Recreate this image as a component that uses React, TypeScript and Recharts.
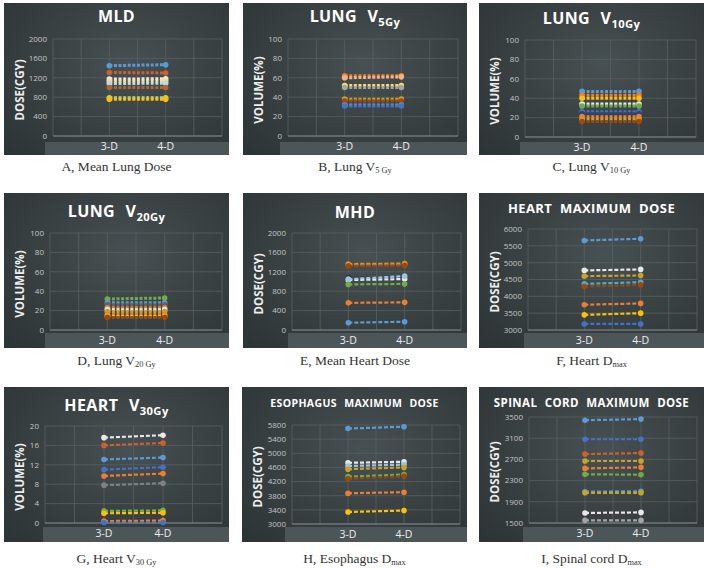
import React from "react";
import { LineChart, Line, XAxis, YAxis, CartesianGrid } from "recharts";

const categories = ["3-D", "4-D"];
const xTicks = [0, 0.5, 1, 1.5, 2, 2.5, 3];

// values per series: [3-D, 4-D]
const mldTicks = [0, 400, 800, 1200, 1600, 2000];
const mldValues = [[1450, 1470], [1310, 1300], [1175, 1180], [1130, 1140], [1080, 1090], [1000, 1000], [790, 790], [760, 760]];
const mldColors = ["#5B9BD5", "#D0602A", "#E8E8E8", "#F4E28A", "#BDD7EE", "#B0682A", "#A9D18E", "#FFC000"];

const v5Ticks = [0, 20, 40, 60, 80, 100];
const v5Values = [[62, 62], [60, 61], [52, 52], [50, 50], [38, 38], [36, 36], [32, 32], [31, 31]];
const v5Colors = ["#ED7D31", "#F4B183", "#FFD966", "#A5A5A5", "#C9A227", "#9E480E", "#5B9BD5", "#4472C4"];

const v10Ticks = [0, 20, 40, 60, 80, 100];
const v10Values = [[47, 47], [43, 43], [40, 40], [34, 34], [32, 32], [26, 26], [24, 24], [21, 21], [18, 18], [16, 16]];
const v10Colors = ["#5B9BD5", "#ED7D31", "#FFC000", "#E8E8E8", "#70AD47", "#4472C4", "#264478", "#ED7D31", "#C9A227", "#9E480E"];

const v20Ticks = [0, 20, 40, 60, 80, 100];
const v20Values = [[32, 33], [28, 28], [26, 26], [23, 23], [21, 21], [19, 19], [16, 16], [14, 14], [13, 13]];
const v20Colors = ["#70AD47", "#5B9BD5", "#636363", "#ED7D31", "#E8E8E8", "#C9A227", "#ED7D31", "#FFC000", "#9E480E"];

const mhdTicks = [0, 400, 800, 1200, 1600, 2000];
const mhdValues = [[1360, 1370], [1340, 1350], [1320, 1330], [1080, 1090], [1030, 1050], [1050, 1110], [940, 950], [560, 570], [150, 170]];
const mhdColors = ["#C9A227", "#ED7D31", "#9E480E", "#303030", "#E8E8E8", "#9DC3E6", "#70AD47", "#ED7D31", "#5B9BD5"];

const hmaxTicks = [3000, 3500, 4000, 4500, 5000, 5500, 6000];
const hmaxValues = [[5660, 5710], [4770, 4800], [4600, 4620], [4370, 4420], [4290, 4340], [3750, 3790], [3450, 3500], [3180, 3180]];
const hmaxColors = ["#5B9BD5", "#E8E8E8", "#C9A227", "#4BACC6", "#9E480E", "#ED7D31", "#FFC000", "#4472C4"];

const v30Ticks = [0, 4, 8, 12, 16, 20];
const v30Values = [[17.6, 18.1], [16, 16.5], [13.1, 13.5], [11, 11.5], [9.7, 10.2], [7.8, 8.2], [2.5, 2.6], [2.0, 2.1], [0.4, 0.5], [0.1, 0.1]];
const v30Colors = ["#E8E8E8", "#D0602A", "#5B9BD5", "#4472C4", "#ED7D31", "#808080", "#70AD47", "#FFC000", "#ED7D31", "#4472C4"];

const esoTicks = [3000, 3400, 3800, 4200, 4600, 5000, 5400, 5800];
const esoValues = [[5700, 5750], [4730, 4760], [4640, 4680], [4550, 4600], [4340, 4400], [4280, 4350], [3870, 3900], [3340, 3380]];
const esoColors = ["#5B9BD5", "#E8E8E8", "#9DC3E6", "#C9A227", "#70AD47", "#9E480E", "#ED7D31", "#FFC000"];

const cordTicks = [1500, 1900, 2300, 2700, 3100, 3500];
const cordValues = [[3440, 3460], [3080, 3080], [2800, 2820], [2670, 2670], [2530, 2550], [2420, 2410], [2090, 2100], [2070, 2070], [1690, 1700], [1550, 1550]];
const cordColors = ["#5B9BD5", "#4472C4", "#D0602A", "#C9A227", "#ED7D31", "#70AD47", "#5B9BD5", "#C9A227", "#E8E8E8", "#A5A5A5"];

const sub = (t: string) => (
  <span style={{ fontSize: "0.7em", position: "relative", top: "0.35em", wordSpacing: 0 }}>{t}</span>
);
const capSub = (t: string) => (
  <span style={{ fontSize: "0.62em", position: "relative", top: "0.2em" }}>{t}</span>
);

type Spec = {
  left: number;
  top: number;
  width: number;
  height: number;
  plot: number[]; // left, top, right, bottom
  band: number[]; // left, top
  title: React.ReactNode;
  titleSize: number;
  titleY: number;
  titleGap: number;
  yLabel: string;
  ticks: number[];
  values: number[][];
  colors: string[];
  stroke: number;
  dash: string;
  caption: React.ReactNode;
  captionY: number;
};

const XH = 18;

function Panel({ s }: { s: Spec }) {
  const data = categories.map((c, i) => {
    const row: Record<string, number | string> = { x: i + 1, name: c };
    s.values.forEach((v, j) => {
      row["s" + j] = v[i];
    });
    return row;
  });
  const [pl, pt, pr, pb] = s.plot;
  return (
    <>
      <div
        style={{
          position: "absolute",
          left: s.left,
          top: s.top,
          width: s.width,
          height: s.height,
          background:
            "radial-gradient(ellipse at 55% 40%, #475052 0%, #3a4244 45%, #2c3335 100%)",
          overflow: "hidden",
          fontFamily: "'Open Sans', sans-serif",
        }}
      >
        <div
          style={{
            position: "absolute",
            left: s.band[0],
            top: s.band[1],
            right: 0,
            bottom: 0,
            background: "#4c5557",
          }}
        />
        <div
          style={{
            position: "absolute",
            left: 0,
            width: s.width,
            top: s.titleY - s.titleSize * 0.7,
            textAlign: "center",
            color: "#ffffff",
            fontWeight: 700,
            fontSize: s.titleSize,
            lineHeight: `${s.titleSize * 1.4}px`,
            wordSpacing: s.titleGap,
            letterSpacing: 0.4,
            whiteSpace: "nowrap",
          }}
        >
          {s.title}
        </div>
        <div
          style={{
            position: "absolute",
            left: 15,
            top: (pt + pb) / 2 + 2,
            transform: "translate(-50%, -50%) rotate(-90deg)",
            color: "#eeeeee",
            fontWeight: 700,
            fontSize: 11.5,
            whiteSpace: "nowrap",
          }}
        >
          {s.yLabel}
        </div>
        <div style={{ position: "absolute", left: 0, top: 0 }}>
          <LineChart
            width={s.width}
            height={s.height}
            data={data}
            margin={{ top: pt, right: s.width - pr, bottom: s.height - pb - XH, left: 0 }}
          >
            <CartesianGrid stroke="#586062" strokeWidth={0.8} />
            <XAxis
              dataKey="x"
              type="number"
              domain={[0, 3]}
              ticks={xTicks}
              interval={0}
              height={XH}
              tickFormatter={(v: number) => (v === 1 ? categories[0] : v === 2 ? categories[1] : "")}
              tick={{ fill: "#eeeeee", fontSize: 10.5 }}
              tickLine={false}
              tickSize={0}
              tickMargin={7}
              axisLine={{ stroke: "#7d8587" }}
            />
            <YAxis
              type="number"
              domain={[s.ticks[0], s.ticks[s.ticks.length - 1]]}
              ticks={s.ticks}
              interval={0}
              width={pl}
              tick={{ fill: "#c4c4c4", fontSize: 8 }}
              axisLine={false}
              tickLine={false}
              tickSize={0}
              tickMargin={6}
            />
            {s.values.map((_, j) => (
              <Line
                key={j}
                type="linear"
                dataKey={"s" + j}
                stroke={s.colors[j]}
                strokeWidth={s.stroke}
                strokeDasharray={s.dash}
                dot={{ r: 2.8, fill: s.colors[j], stroke: s.colors[j], strokeWidth: 0 }}
                activeDot={false}
                isAnimationActive={false}
              />
            ))}
          </LineChart>
        </div>
      </div>
      <div
        style={{
          position: "absolute",
          left: s.left,
          width: s.width,
          top: s.captionY - 9,
          lineHeight: "18px",
          textAlign: "center",
          fontFamily: "'Liberation Serif', 'DejaVu Serif', serif",
          fontSize: 13.5,
          color: "#333333",
          whiteSpace: "nowrap",
        }}
      >
        {s.caption}
      </div>
    </>
  );
}

const specs: Spec[] = [
  {
    left: 4, top: 3, width: 225, height: 152,
    plot: [49, 36, 218, 133], band: [41, 139],
    title: "MLD", titleSize: 16, titleY: 13, titleGap: 6, yLabel: "DOSE(CGY)",
    ticks: mldTicks, values: mldValues, colors: mldColors, stroke: 3, dash: "3 1.6",
    caption: "A, Mean Lung Dose", captionY: 167,
  },
  {
    left: 243, top: 3, width: 224, height: 152,
    plot: [45, 36, 215, 133], band: [37, 139],
    title: <>LUNG V{sub("5Gy")}</>, titleSize: 16, titleY: 13, titleGap: 6, yLabel: "VOLUME(%)",
    ticks: v5Ticks, values: v5Values, colors: v5Colors, stroke: 3, dash: "3 1.6",
    caption: <>B, Lung V{capSub("5 Gy")}</>, captionY: 167,
  },
  {
    left: 479, top: 3, width: 225, height: 152,
    plot: [46, 37, 217, 134], band: [41, 139],
    title: <>LUNG V{sub("10Gy")}</>, titleSize: 16, titleY: 15, titleGap: 6, yLabel: "VOLUME(%)",
    ticks: v10Ticks, values: v10Values, colors: v10Colors, stroke: 3, dash: "3 1.6",
    caption: <>C, Lung V{capSub("10 Gy")}</>, captionY: 167,
  },
  {
    left: 4, top: 193, width: 225, height: 155,
    plot: [46, 40, 218, 137], band: [41, 140],
    title: <>LUNG V{sub("20Gy")}</>, titleSize: 16, titleY: 18, titleGap: 6, yLabel: "VOLUME(%)",
    ticks: v20Ticks, values: v20Values, colors: v20Colors, stroke: 3, dash: "3 1.6",
    caption: <>D, Lung V{capSub("20 Gy")}</>, captionY: 361,
  },
  {
    left: 243, top: 193, width: 224, height: 155,
    plot: [49, 40, 218, 137], band: [45, 140],
    title: "MHD", titleSize: 16, titleY: 19, titleGap: 6, yLabel: "DOSE(CGY)",
    ticks: mhdTicks, values: mhdValues, colors: mhdColors, stroke: 2.2, dash: "4 2",
    caption: "E, Mean Heart Dose", captionY: 361,
  },
  {
    left: 479, top: 193, width: 225, height: 155,
    plot: [49, 36, 218, 137], band: [45, 140],
    title: "HEART MAXIMUM DOSE", titleSize: 13, titleY: 15, titleGap: 4, yLabel: "DOSE(CGY)",
    ticks: hmaxTicks, values: hmaxValues, colors: hmaxColors, stroke: 2.2, dash: "4 2",
    caption: <>F, Heart D{capSub("max")}</>, captionY: 361,
  },
  {
    left: 4, top: 387, width: 225, height: 155,
    plot: [41, 39, 218, 136], band: [39, 140],
    title: <>HEART V{sub("30Gy")}</>, titleSize: 16, titleY: 18, titleGap: 6, yLabel: "VOLUME(%)",
    ticks: v30Ticks, values: v30Values, colors: v30Colors, stroke: 2.2, dash: "4 2",
    caption: <>G, Heart V{capSub("30 Gy")}</>, captionY: 559,
  },
  {
    left: 242, top: 387, width: 225, height: 155,
    plot: [50, 38, 218, 137], band: [43, 140],
    title: "ESOPHAGUS MAXIMUM DOSE", titleSize: 10.5, titleY: 16, titleGap: 4, yLabel: "DOSE(CGY)",
    ticks: esoTicks, values: esoValues, colors: esoColors, stroke: 2.2, dash: "4 2",
    caption: <>H, Esophagus D{capSub("max")}</>, captionY: 559,
  },
  {
    left: 479, top: 387, width: 225, height: 155,
    plot: [50, 30, 218, 136], band: [44, 140],
    title: "SPINAL CORD MAXIMUM DOSE", titleSize: 11.5, titleY: 16, titleGap: 4, yLabel: "DOSE(CGY)",
    ticks: cordTicks, values: cordValues, colors: cordColors, stroke: 2.2, dash: "4 2",
    caption: <>I, Spinal cord D{capSub("max")}</>, captionY: 559,
  },
];

export default function App() {
  return (
    <div
      style={{
        position: "absolute",
        left: 0,
        top: 0,
        width: 713,
        height: 568,
        background: "#ffffff",
        overflow: "hidden",
      }}
    >
      {specs.map((s, i) => (
        <Panel key={i} s={s} />
      ))}
    </div>
  );
}
